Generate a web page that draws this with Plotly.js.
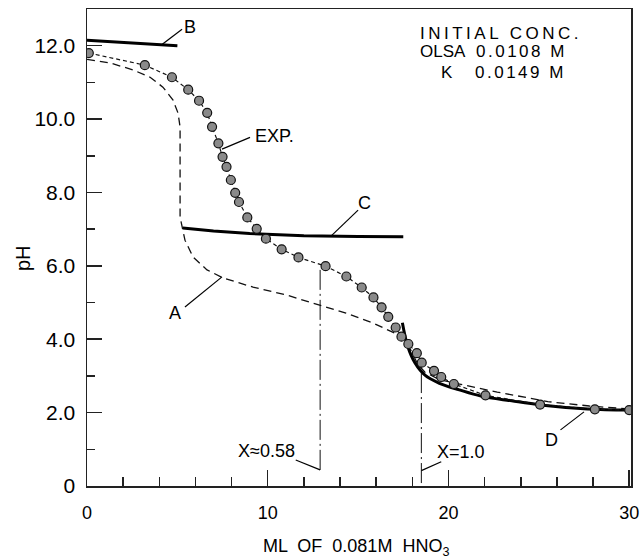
<!DOCTYPE html>
<html>
<head>
<meta charset="utf-8">
<script src="https://cdn.plot.ly/plotly-3.0.1.min.js"></script>
<style>html,body{margin:0;padding:0;background:#fff;}#chart{width:643px;height:560px;}</style>
</head>
<body>
<div id="chart"></div>
<script>
// Experimental titration points
const expX = [0.1, 3.2, 4.7, 5.6, 6.2, 6.65, 6.92, 7.27, 7.5, 7.72, 7.96, 8.2, 8.41, 8.87, 9.39, 9.9, 10.77, 11.7, 13.2, 14.35, 15.2, 15.85, 16.3, 16.67, 17.08, 17.4, 17.78, 18.25, 18.52, 19.2, 19.6, 20.3, 22.05, 25.07, 28.1, 30.0];
const expY = [11.8, 11.47, 11.14, 10.8, 10.5, 10.17, 9.79, 9.34, 8.97, 8.7, 8.34, 7.99, 7.74, 7.32, 7.01, 6.74, 6.45, 6.23, 5.99, 5.71, 5.41, 5.14, 4.87, 4.61, 4.32, 4.07, 3.87, 3.62, 3.36, 3.14, 2.97, 2.78, 2.47, 2.22, 2.09, 2.07];
// Curve A (dashed, calculated)
const aX = [0.0, 1.27, 2.55, 3.49, 4.2, 4.76, 5.04, 5.15, 5.15, 5.26, 5.42, 5.87, 6.64, 7.53, 9.19, 11.07, 12.9, 14.33, 15.83, 16.93, 17.49, 17.9, 18.3, 18.7, 19.5, 20.4, 22.7, 25.5, 27.8, 30.0];
const aY = [11.63, 11.53, 11.34, 11.14, 10.87, 10.52, 10.16, 9.78, 7.33, 7.06, 6.7, 6.24, 5.89, 5.67, 5.42, 5.2, 4.93, 4.71, 4.44, 4.2, 4.06, 3.72, 3.32, 3.1, 2.9, 2.8, 2.56, 2.3, 2.18, 2.1];
// Curve B
const bX = [0.0, 5.0];
const bY = [12.15, 12.0];
// Curve C
const cX = [5.3, 7.0, 9.0, 12.0, 15.0, 17.5];
const cY = [7.03, 6.95, 6.88, 6.82, 6.8, 6.79];
// Curve D
const dX = [17.45, 17.75, 18.15, 18.7, 19.5, 20.6, 21.8, 23.5, 25.1, 27.7, 30.0];
const dY = [4.45, 3.8, 3.35, 3.02, 2.8, 2.62, 2.45, 2.32, 2.21, 2.1, 2.07];
// Equivalence markers
const eqX = [12.9, 18.5];
const eqTop = [6.0, 3.3];
const eqBottom = [0.44, 0.08];
// Tick labels
const yTickVals = [0, 2, 4, 6, 8, 10, 12];
const yTickText = ['0', '2.0', '4.0', '6.0', '8.0', '10.0', '12.0'];
const yMinor = [1, 3, 5, 7, 9, 11];
const xTickVals = [0, 10, 20, 30];
const xTickText = ['0', '10', '20', '30'];
const xMinor = [2, 4, 6, 8, 12, 14, 16, 18, 22, 24, 26, 28];

const F = 'Liberation Sans, Arial, sans-serif';
const traces = [
  {x: aX, y: aY, mode: 'lines', line: {color: '#111', width: 1.3, dash: '8px,5px'}},
  {x: bX, y: bY, mode: 'lines', line: {color: '#000', width: 3}},
  {x: cX, y: cY, mode: 'lines', line: {color: '#000', width: 3}},
  {x: dX, y: dY, mode: 'lines', line: {color: '#000', width: 3, shape: 'spline'}},
  {x: [eqX[0], eqX[0]], y: [eqBottom[0], eqTop[0]], mode: 'lines', line: {color: '#111', width: 1, dash: '20px,4px,2px,4px'}},
  {x: [eqX[1], eqX[1]], y: [eqBottom[1], eqTop[1]], mode: 'lines', line: {color: '#111', width: 1, dash: '20px,4px,2px,4px'}},
  {x: expX, y: expY, mode: 'lines+markers', line: {color: '#111', width: 1.2, dash: '4px,3px'},
   marker: {size: 9, color: '#8a8a8a', line: {color: '#111', width: 1.2}}}
];

function lead(x0, y0, x1, y1) {
  return {type: 'line', xref: 'x', yref: 'y', x0: x0, y0: y0, x1: x1, y1: y1, line: {color: '#000', width: 1.2}};
}
function lab(text, x, y, xa, size) {
  return {text: text, x: x, y: y, xref: 'x', yref: 'y', xanchor: xa || 'center', yanchor: 'middle',
          showarrow: false, font: {family: F, size: size || 18, color: '#000'}};
}

const layout = {
  width: 643, height: 560,
  margin: {l: 87, r: 12, t: 9, b: 74},
  paper_bgcolor: '#fff', plot_bgcolor: '#fff',
  showlegend: false,
  font: {family: F, color: '#000'},
  xaxis: {
    range: [0, 30.1], showgrid: false, zeroline: false,
    showline: true, mirror: true, linecolor: '#222', linewidth: 1.5,
    ticks: 'inside', ticklen: 16, tickwidth: 1.5, tickcolor: '#222',
    tickmode: 'array', tickvals: xTickVals, ticktext: xTickText,
    tickfont: {family: F, size: 18, color: '#000'}, ticklabelstandoff: 10,
    minor: {tickmode: 'array', tickvals: xMinor, ticks: 'inside', ticklen: 9, tickwidth: 1.5, tickcolor: '#222'}
  },
  yaxis: {
    range: [0, 13], showgrid: false, zeroline: false,
    showline: true, mirror: true, linecolor: '#222', linewidth: 1.5,
    ticks: 'inside', ticklen: 15, tickwidth: 1.5, tickcolor: '#222',
    tickmode: 'array', tickvals: yTickVals, ticktext: yTickText,
    tickfont: {family: 'Liberation Sans Narrow, Arial Narrow, Liberation Sans, sans-serif', size: 21, color: '#000'}, ticklabelstandoff: 6,
    minor: {tickmode: 'array', tickvals: yMinor, ticks: 'inside', ticklen: 8, tickwidth: 1.5, tickcolor: '#222'}
  },
  shapes: [
    lead(4.15, 12.03, 5.26, 12.45),
    lead(7.47, 9.18, 9.02, 9.5),
    lead(13.5, 6.81, 15.0, 7.52),
    lead(5.42, 4.88, 7.47, 5.7),
    lead(26.2, 1.53, 27.5, 2.02),
    lead(12.9, 0.44, 11.55, 0.71),
    lead(18.5, 0.42, 19.6, 0.66)
  ],
  annotations: [
    lab('B', 5.69, 12.51),
    lab('EXP.', 9.17, 9.54, 'left'),
    lab('C', 15.36, 7.71),
    lab('A', 4.86, 4.71),
    lab('D', 25.69, 1.25),
    lab('X≈0.58', 11.62, 0.95, 'right'),
    lab('X=1.0', 19.26, 0.93, 'left'),
    lab('<span style="letter-spacing:3.5px">INITIAL CONC.</span>', 18.34, 12.34, 'left', 17),
    lab('OLSA', 18.34, 11.83, 'left', 17),
    lab('<span style="letter-spacing:2.5px">0.0108 M</span>', 21.44, 11.83, 'left', 17),
    lab('K', 19.45, 11.28, 'left', 17),
    lab('<span style="letter-spacing:2.5px">0.0149 M</span>', 21.33, 11.28, 'left', 17),
    {text: 'pH', xref: 'paper', yref: 'paper', x: (23 - 87) / 544, y: (486 - 258) / 477, xanchor: 'center', yanchor: 'middle',
     textangle: -90, showarrow: false, font: {family: F, size: 20, color: '#000'}},
    {text: 'ML  OF  0.081M  HNO<sub>3</sub>', xref: 'paper', yref: 'paper', x: (356 - 87) / 544, y: (486 - 547) / 477,
     xanchor: 'center', yanchor: 'middle', showarrow: false, font: {family: F, size: 18, color: '#000'}}
  ]
};

Plotly.newPlot('chart', traces, layout, {staticPlot: true, displayModeBar: false});
</script>
</body>
</html>
